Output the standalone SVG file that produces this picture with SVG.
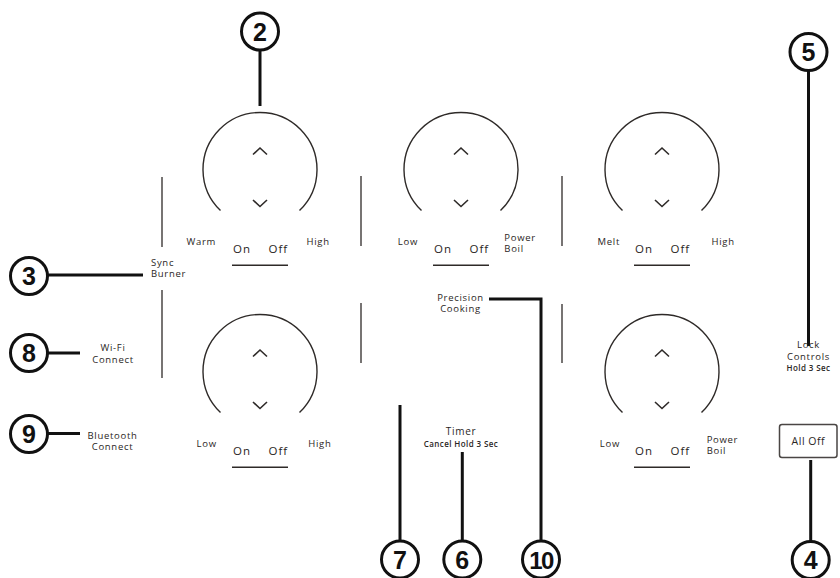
<svg xmlns="http://www.w3.org/2000/svg" width="840" height="578" viewBox="0 0 840 578">
<style>
.knob{fill:none;stroke:#2e2a28;stroke-width:1.4}
.chev{fill:none;stroke:#2e2a28;stroke-width:1.6}
.ul{stroke:#2e2a28;stroke-width:1.5}
.div{stroke:#4a4644;stroke-width:1.5}
.lbl{font-family:"Open Sans","DejaVu Sans",sans-serif;font-size:9.5px;font-weight:500;fill:#2a2624;letter-spacing:0.7px}
.onoff{font-family:"Open Sans","DejaVu Sans",sans-serif;font-size:11.5px;fill:#2a2624;letter-spacing:1px}
.small{font-family:"Open Sans","DejaVu Sans",sans-serif;font-size:8px;font-weight:600;fill:#2a2624;letter-spacing:0.4px}
.mid{text-anchor:middle}
.end{text-anchor:end}
.co{fill:#fff;stroke:#111;stroke-width:3}
.cl{fill:none;stroke:#111;stroke-width:3}
.num{font-family:"Liberation Sans",Arial,sans-serif;font-weight:bold;font-size:25px;fill:#111;text-anchor:middle}
</style>
<defs>
<g id="knobShape">
<path class="knob" d="M-39.5,41.6 A57,57 0 1 1 39.5,41.6"/>
<path class="chev" d="M-7,-14.5 L0,-21 L7,-14.5"/>
<path class="chev" d="M-7,31 L0,37.5 L7,31"/>
<text class="onoff" x="-27" y="84.3">On</text>
<text class="onoff" x="8.5" y="84.3">Off</text>
<line class="ul" x1="-28" y1="96.3" x2="28" y2="96.3"/>
</g>
</defs>

<g id="dividers">
<line class="div" x1="162" y1="177" x2="162" y2="247"/>
<line class="div" x1="162" y1="290" x2="162" y2="378"/>
<line class="div" x1="361" y1="176" x2="361" y2="246"/>
<line class="div" x1="361" y1="303" x2="361" y2="363"/>
<line class="div" x1="562" y1="176" x2="562" y2="246"/>
<line class="div" x1="562" y1="304" x2="562" y2="363"/>
</g>

<g id="knob-top-left" transform="translate(260,169)">
<use href="#knobShape"/>
<text class="lbl end" x="-44" y="75.5">Warm</text>
<text class="lbl" x="46.5" y="75.5">High</text>
</g>
<g id="knob-top-mid" transform="translate(461,169)">
<use href="#knobShape"/>
<text class="lbl end" x="-43" y="75.5">Low</text>
<text class="lbl" x="43.3" y="71.7">Power</text>
<text class="lbl" x="43.3" y="82.7">Boil</text>
</g>
<g id="knob-top-right" transform="translate(662,169)">
<use href="#knobShape"/>
<text class="lbl end" x="-42" y="75.5">Melt</text>
<text class="lbl" x="49.5" y="75.5">High</text>
</g>
<g id="knob-bottom-left" transform="translate(260,371)">
<use href="#knobShape"/>
<text class="lbl end" x="-43.3" y="75.5">Low</text>
<text class="lbl" x="48.3" y="75.5">High</text>
</g>
<g id="knob-bottom-right" transform="translate(662,371)">
<use href="#knobShape"/>
<text class="lbl end" x="-42" y="75.5">Low</text>
<text class="lbl" x="44.7" y="71.7">Power</text>
<text class="lbl" x="44.7" y="82.7">Boil</text>
</g>

<g id="sync-burner">
<text class="lbl" x="151" y="266">Sync</text>
<text class="lbl" x="151" y="277">Burner</text>
</g>
<g id="wifi">
<text class="lbl mid" x="113" y="351">Wi-Fi</text>
<text class="lbl mid" x="113" y="362.5">Connect</text>
</g>
<g id="bluetooth">
<text class="lbl mid" x="112.5" y="438.5">Bluetooth</text>
<text class="lbl mid" x="112.5" y="450">Connect</text>
</g>
<g id="precision">
<text class="lbl mid" x="460.5" y="300.5">Precision</text>
<text class="lbl mid" x="460.5" y="312.3">Cooking</text>
</g>
<g id="timer">
<text class="lbl mid" x="461" y="435" style="font-size:10px">Timer</text>
<text class="small mid" x="461" y="446.5">Cancel Hold 3 Sec</text>
</g>
<g id="all-off">
<rect x="779.5" y="424.5" width="57.5" height="33" rx="2.5" fill="#fff" stroke="#4a4644" stroke-width="1.5"/>
<text class="onoff mid" x="808.3" y="444.5" style="font-size:10.5px;letter-spacing:0.5px">All Off</text>
</g>

<g id="connectors">
<line class="cl" x1="260" y1="50" x2="260" y2="106"/>
<line class="cl" x1="47" y1="275" x2="143" y2="275"/>
<line class="cl" x1="47" y1="353" x2="80" y2="353"/>
<line class="cl" x1="47" y1="433.5" x2="80" y2="433.5"/>
<line class="cl" x1="400" y1="405" x2="400" y2="541"/>
<line class="cl" x1="462.3" y1="452" x2="462.3" y2="541"/>
<polyline class="cl" points="489,299 541,299 541,541"/>
<line class="cl" x1="808.5" y1="70" x2="808.5" y2="346"/>
<line class="cl" x1="810.7" y1="460" x2="810.7" y2="541"/>
</g>

<g id="lock-controls">
<text class="lbl mid" x="808.5" y="348.3">Lock</text>
<text class="lbl mid" x="808.5" y="360">Controls</text>
<text class="small mid" x="808.5" y="370.7">Hold 3 Sec</text>
</g>

<g id="callout-2"><circle class="co" cx="260" cy="31.5" r="18.5"/><text class="num" x="260" y="40.5">2</text></g>
<g id="callout-3"><circle class="co" cx="29" cy="276" r="18.5"/><text class="num" x="29" y="285">3</text></g>
<g id="callout-8"><circle class="co" cx="29" cy="353" r="18.5"/><text class="num" x="29" y="362">8</text></g>
<g id="callout-9"><circle class="co" cx="29" cy="434" r="18.5"/><text class="num" x="29" y="443">9</text></g>
<g id="callout-7"><circle class="co" cx="400" cy="559.5" r="18.5"/><text class="num" x="400" y="568.5">7</text></g>
<g id="callout-6"><circle class="co" cx="462.3" cy="559.5" r="18.5"/><text class="num" x="462.3" y="568.5">6</text></g>
<g id="callout-10"><circle class="co" cx="541" cy="559.5" r="18.5"/><text class="num" x="541" y="568.5" style="font-size:24px;letter-spacing:-1.5px">10</text></g>
<g id="callout-5"><circle class="co" cx="808.5" cy="52" r="18.5"/><text class="num" x="808.5" y="61">5</text></g>
<g id="callout-4"><circle class="co" cx="810.7" cy="560" r="18.5"/><text class="num" x="810.7" y="569">4</text></g>
</svg>
